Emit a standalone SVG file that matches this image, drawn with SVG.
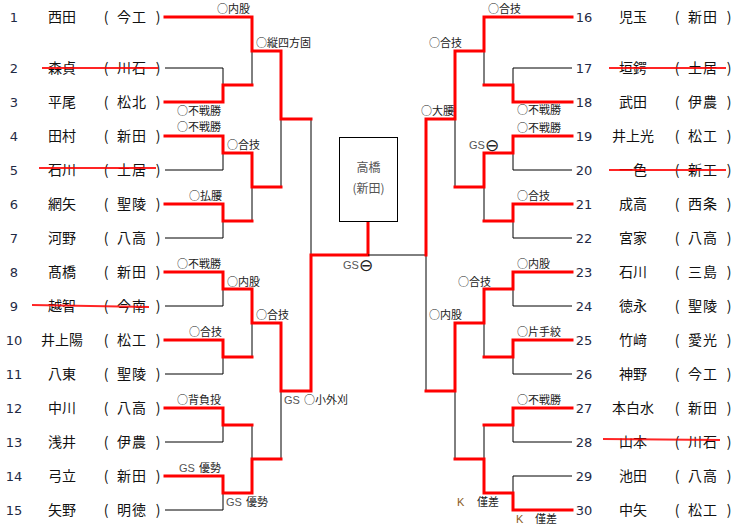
<svg xmlns="http://www.w3.org/2000/svg" width="737" height="528" viewBox="0 0 737 528">
<style>
text{font-family:"Noto Sans CJK JP","Liberation Sans",sans-serif;}
.num{font-family:"DejaVu Sans","Liberation Sans",sans-serif;font-size:13px;fill:#1f2a44;text-anchor:middle;}
.nm{font-size:14px;fill:#111;text-anchor:middle;}
.sc{font-size:14px;fill:#111;text-anchor:middle;letter-spacing:1px;}
.pr{font-size:14px;fill:#111;text-anchor:middle;}
.lb{font-size:11px;fill:#222;}
.gs{font-family:"Liberation Sans",sans-serif;font-size:11px;fill:#555;}
.k{font-family:"Liberation Sans",sans-serif;font-size:11px;fill:#8a5a20;}
.ms{font-family:"DejaVu Sans",sans-serif;font-size:17px;fill:#222;}
.bk{fill:none;stroke:#000;stroke-width:1;}
.rd{fill:none;stroke:#ff0000;stroke-width:3;stroke-linejoin:miter;stroke-linecap:square;}
.st{stroke:#ff0000;stroke-width:2;opacity:0.85;}
.box{fill:#fff;stroke:#000;stroke-width:1;}
.bt{font-size:12px;fill:#555;text-anchor:middle;}
</style>

<g id="connectors">
<path class="bk" d="M165,68H223V85 M223,153V170H165 M223,221V238H165 M223,289V306H165 M223,357V374H165 M223,425V442H165 M223,493V510H165 M252,51V85 M252,187V221 M252,323V357 M252,425V459 M281,119V187 M281,391V459 M311,119V255"/>
<path class="rd" d="M165,17H252V51H281V119H311 M165,102H223V85H252 M165,136H223V153H252V187H281 M165,204H223V221H252 M165,272H223V289H252V323H281V391H311V255H368V221 M165,340H223V357H252 M165,408H223V425H252 M165,476H223V493H252V459H281"/>
<path class="bk" d="M572,68H513V85 M513,153V170H572 M513,221V238H572 M513,289V306H572 M513,357V374H572 M513,425V442H572 M513,493V476H572 M484,51V85 M484,187V221 M484,323V357 M484,425V459 M455,119V187 M455,391V459 M426,391V255H368"/>
<path class="rd" d="M572,17H484V51H455V119H426V255 M572,102H513V85H484 M572,136H513V153H484V187H455 M572,204H513V221H484 M572,272H513V289H484V323H455V391H426 M572,340H513V357H484 M572,408H513V425H484 M572,510H513V493H484V459H455"/>
</g>

<g id="champion">
<rect class="box" x="339.5" y="137.5" width="58" height="84"/>
<text class="bt" x="368.5" y="172">高橋</text>
<text class="bt" x="368.5" y="193">(新田)</text>
</g>

<g id="left-entries">
<g id="e1"><text class="num" x="14" y="22">1</text><text class="nm" x="62" y="22">西田</text><text class="pr" x="106" y="22">(</text><text class="sc" x="132" y="22">今工</text><text class="pr" x="158" y="22">)</text></g>
<g id="e2"><text class="num" x="14" y="73">2</text><text class="nm" x="62" y="73">森貞</text><text class="pr" x="106" y="73">(</text><text class="sc" x="132" y="73">川石</text><text class="pr" x="158" y="73">)</text></g>
<g id="e3"><text class="num" x="14" y="107">3</text><text class="nm" x="62" y="107">平尾</text><text class="pr" x="106" y="107">(</text><text class="sc" x="132" y="107">松北</text><text class="pr" x="158" y="107">)</text></g>
<g id="e4"><text class="num" x="14" y="141">4</text><text class="nm" x="62" y="141">田村</text><text class="pr" x="106" y="141">(</text><text class="sc" x="132" y="141">新田</text><text class="pr" x="158" y="141">)</text></g>
<g id="e5"><text class="num" x="14" y="175">5</text><text class="nm" x="62" y="175">石川</text><text class="pr" x="106" y="175">(</text><text class="sc" x="132" y="175">土居</text><text class="pr" x="158" y="175">)</text></g>
<g id="e6"><text class="num" x="14" y="209">6</text><text class="nm" x="62" y="209">網矢</text><text class="pr" x="106" y="209">(</text><text class="sc" x="132" y="209">聖陵</text><text class="pr" x="158" y="209">)</text></g>
<g id="e7"><text class="num" x="14" y="243">7</text><text class="nm" x="62" y="243">河野</text><text class="pr" x="106" y="243">(</text><text class="sc" x="132" y="243">八高</text><text class="pr" x="158" y="243">)</text></g>
<g id="e8"><text class="num" x="14" y="277">8</text><text class="nm" x="62" y="277">髙橋</text><text class="pr" x="106" y="277">(</text><text class="sc" x="132" y="277">新田</text><text class="pr" x="158" y="277">)</text></g>
<g id="e9"><text class="num" x="14" y="311">9</text><text class="nm" x="62" y="311">越智</text><text class="pr" x="106" y="311">(</text><text class="sc" x="132" y="311">今南</text><text class="pr" x="158" y="311">)</text></g>
<g id="e10"><text class="num" x="14" y="345">10</text><text class="nm" x="62" y="345">井上陽</text><text class="pr" x="106" y="345">(</text><text class="sc" x="132" y="345">松工</text><text class="pr" x="158" y="345">)</text></g>
<g id="e11"><text class="num" x="14" y="379">11</text><text class="nm" x="62" y="379">八東</text><text class="pr" x="106" y="379">(</text><text class="sc" x="132" y="379">聖陵</text><text class="pr" x="158" y="379">)</text></g>
<g id="e12"><text class="num" x="14" y="413">12</text><text class="nm" x="62" y="413">中川</text><text class="pr" x="106" y="413">(</text><text class="sc" x="132" y="413">八高</text><text class="pr" x="158" y="413">)</text></g>
<g id="e13"><text class="num" x="14" y="447">13</text><text class="nm" x="62" y="447">浅井</text><text class="pr" x="106" y="447">(</text><text class="sc" x="132" y="447">伊農</text><text class="pr" x="158" y="447">)</text></g>
<g id="e14"><text class="num" x="14" y="481">14</text><text class="nm" x="62" y="481">弓立</text><text class="pr" x="106" y="481">(</text><text class="sc" x="132" y="481">新田</text><text class="pr" x="158" y="481">)</text></g>
<g id="e15"><text class="num" x="14" y="515">15</text><text class="nm" x="62" y="515">矢野</text><text class="pr" x="106" y="515">(</text><text class="sc" x="132" y="515">明徳</text><text class="pr" x="158" y="515">)</text></g>
</g>

<g id="right-entries">
<g id="e16"><text class="num" x="584" y="22">16</text><text class="nm" x="633" y="22">児玉</text><text class="pr" x="677" y="22">(</text><text class="sc" x="703" y="22">新田</text><text class="pr" x="729" y="22">)</text></g>
<g id="e17"><text class="num" x="584" y="73">17</text><text class="nm" x="633" y="73">垣鍔</text><text class="pr" x="677" y="73">(</text><text class="sc" x="703" y="73">土居</text><text class="pr" x="729" y="73">)</text></g>
<g id="e18"><text class="num" x="584" y="107">18</text><text class="nm" x="633" y="107">武田</text><text class="pr" x="677" y="107">(</text><text class="sc" x="703" y="107">伊農</text><text class="pr" x="729" y="107">)</text></g>
<g id="e19"><text class="num" x="584" y="141">19</text><text class="nm" x="633" y="141">井上光</text><text class="pr" x="677" y="141">(</text><text class="sc" x="703" y="141">松工</text><text class="pr" x="729" y="141">)</text></g>
<g id="e20"><text class="num" x="584" y="175">20</text><text class="nm" x="633" y="175">一色</text><text class="pr" x="677" y="175">(</text><text class="sc" x="703" y="175">新工</text><text class="pr" x="729" y="175">)</text></g>
<g id="e21"><text class="num" x="584" y="209">21</text><text class="nm" x="633" y="209">成高</text><text class="pr" x="677" y="209">(</text><text class="sc" x="703" y="209">西条</text><text class="pr" x="729" y="209">)</text></g>
<g id="e22"><text class="num" x="584" y="243">22</text><text class="nm" x="633" y="243">宮家</text><text class="pr" x="677" y="243">(</text><text class="sc" x="703" y="243">八高</text><text class="pr" x="729" y="243">)</text></g>
<g id="e23"><text class="num" x="584" y="277">23</text><text class="nm" x="633" y="277">石川</text><text class="pr" x="677" y="277">(</text><text class="sc" x="703" y="277">三島</text><text class="pr" x="729" y="277">)</text></g>
<g id="e24"><text class="num" x="584" y="311">24</text><text class="nm" x="633" y="311">徳永</text><text class="pr" x="677" y="311">(</text><text class="sc" x="703" y="311">聖陵</text><text class="pr" x="729" y="311">)</text></g>
<g id="e25"><text class="num" x="584" y="345">25</text><text class="nm" x="633" y="345">竹﨑</text><text class="pr" x="677" y="345">(</text><text class="sc" x="703" y="345">愛光</text><text class="pr" x="729" y="345">)</text></g>
<g id="e26"><text class="num" x="584" y="379">26</text><text class="nm" x="633" y="379">神野</text><text class="pr" x="677" y="379">(</text><text class="sc" x="703" y="379">今工</text><text class="pr" x="729" y="379">)</text></g>
<g id="e27"><text class="num" x="584" y="413">27</text><text class="nm" x="633" y="413">本白水</text><text class="pr" x="677" y="413">(</text><text class="sc" x="703" y="413">新田</text><text class="pr" x="729" y="413">)</text></g>
<g id="e28"><text class="num" x="584" y="447">28</text><text class="nm" x="633" y="447">山本</text><text class="pr" x="677" y="447">(</text><text class="sc" x="703" y="447">川石</text><text class="pr" x="729" y="447">)</text></g>
<g id="e29"><text class="num" x="584" y="481">29</text><text class="nm" x="633" y="481">池田</text><text class="pr" x="677" y="481">(</text><text class="sc" x="703" y="481">八高</text><text class="pr" x="729" y="481">)</text></g>
<g id="e30"><text class="num" x="584" y="515">30</text><text class="nm" x="633" y="515">中矢</text><text class="pr" x="677" y="515">(</text><text class="sc" x="703" y="515">松工</text><text class="pr" x="729" y="515">)</text></g>
</g>

<g id="strikes">
<line class="st" x1="42" y1="68" x2="158" y2="68"/>
<line class="st" x1="39" y1="168" x2="156" y2="168"/>
<line class="st" x1="32" y1="305" x2="149" y2="307"/>
<line class="st" x1="609" y1="68" x2="726" y2="68"/>
<line class="st" x1="609" y1="170" x2="726" y2="170"/>
<line class="st" x1="603" y1="439" x2="720" y2="440"/>
</g>

<g id="labels">
<text class="lb" x="217" y="13">○内股</text>
<text class="lb" x="256" y="47">○縦四方固</text>
<text class="lb" x="177" y="115">○不戦勝</text>
<text class="lb" x="177" y="131">○不戦勝</text>
<text class="lb" x="227" y="149">○合技</text>
<text class="lb" x="189" y="200">○払腰</text>
<text class="lb" x="177" y="268">○不戦勝</text>
<text class="lb" x="227" y="286">○内股</text>
<text class="lb" x="256" y="319">○合技</text>
<text class="lb" x="189" y="336">○合技</text>
<text class="lb" x="177" y="404">○背負投</text>
<text class="gs" x="284" y="404">GS</text><text class="lb" x="304" y="404">○小外刈</text>
<text class="gs" x="179" y="472">GS</text><text class="lb" x="199" y="472">優勢</text>
<text class="gs" x="226" y="506">GS</text><text class="lb" x="246" y="506">優勢</text>
<text class="gs" x="343" y="269">GS</text><text class="ms" x="359" y="271">⊖</text>

<text class="lb" x="488" y="13">○合技</text>
<text class="lb" x="429" y="47">○合技</text>
<text class="lb" x="421" y="115">○大腰</text>
<text class="lb" x="517" y="114">○不戦勝</text>
<text class="lb" x="517" y="132">○不戦勝</text>
<text class="gs" x="469" y="149">GS</text><text class="ms" x="485" y="151">⊖</text>
<text class="lb" x="517" y="200">○合技</text>
<text class="lb" x="517" y="268">○内股</text>
<text class="lb" x="458" y="286">○合技</text>
<text class="lb" x="429" y="319">○内股</text>
<text class="lb" x="517" y="336">○片手絞</text>
<text class="lb" x="517" y="404">○不戦勝</text>
<text class="k" x="457" y="506">K</text><text class="lb" x="477" y="506">僅差</text>
<text class="k" x="516" y="523">K</text><text class="lb" x="535" y="523">僅差</text>
</g>
</svg>
